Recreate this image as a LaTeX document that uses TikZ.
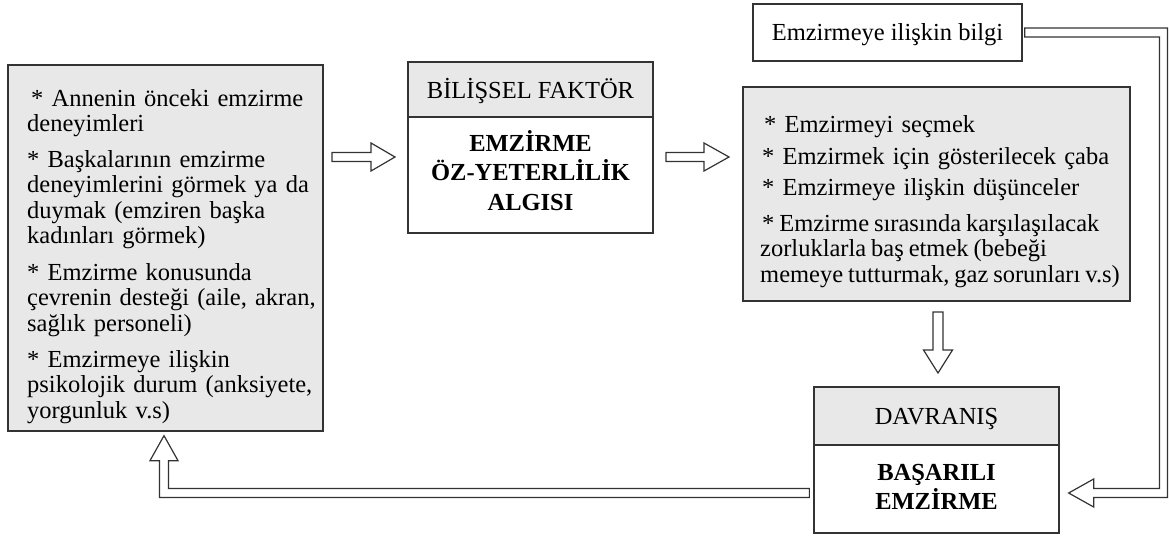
\documentclass[tikz,border=0pt]{standalone}
\usepackage{fontspec}
\setmainfont{Liberation Serif}
\usetikzlibrary{calc}
\definecolor{boxgray}{RGB}{232,232,232}
\definecolor{linec}{RGB}{51,51,51}
\newcommand\bodyfont{\fontsize{24.5pt}{25.5pt}\selectfont\lineskiplimit=-50pt\lineskip=0pt}
\newcommand\tstrut{\rule{0pt}{22pt}}
\begin{document}
\begin{tikzpicture}[x=1pt,y=-1pt,
  box/.style={draw=linec, line width=1.3pt, inner sep=0pt, rectangle},
  graybox/.style={box, fill=boxgray},
  whitebox/.style={box, fill=white},
  txt/.style={inner sep=0pt, font=\bodyfont, align=left, text width=420pt, anchor=north west},
  ctxt/.style={inner sep=0pt, font=\bodyfont, anchor=base},
  btxt/.style={inner sep=0pt, font=\bodyfont\bfseries, anchor=base},
  hollow/.style={draw=linec, line width=1.2pt, fill=white, line join=miter}]
\useasboundingbox (0,0) rectangle (1169,536);

% boxes
\node[graybox, minimum width=315pt, minimum height=366pt] (L) at (165.5,248) {};
\node[whitebox, minimum width=245pt, minimum height=171pt] (M) at (530.5,147.5) {};
\node[graybox, minimum width=245pt, minimum height=55pt, anchor=north] (Mh) at (M.north) {};
\node[graybox, minimum width=387pt, minimum height=214pt] (R) at (936.5,194) {};
\node[whitebox, minimum width=269pt, minimum height=57pt] (T) at (887.5,32.5) {};
\node[whitebox, minimum width=245pt, minimum height=146pt] (D) at (936.5,460) {};
\node[graybox, minimum width=245pt, minimum height=58pt, anchor=north] (Dh) at (D.north) {};

% left box text
\node[txt] (l1) at (27,84) {\tstrut\hspace*{4pt}* Annenin önceki emzirme\\deneyimleri};
\node[txt] (l2) at (27,145) {\tstrut* Başkalarının emzirme\\deneyimlerini görmek ya da\\duymak (emziren başka\\kadınları görmek)};
\node[txt] (l3) at (27,258) {\tstrut* Emzirme konusunda\\çevrenin desteği (aile, akran,\\sağlık personeli)};
\node[txt] (l4) at (27,345) {\tstrut* Emzirmeye ilişkin\\psikolojik durum (anksiyete,\\yorgunluk v.s)};

% middle box text
\node[ctxt] (mh) at (530.5,98) {BİLİŞSEL FAKTÖR};
\node[btxt] (m1) at (530.5,151.5) {EMZİRME};
\node[btxt] (m2) at (530.5,180.5) {ÖZ-YETERLİLİK};
\node[btxt] (m3) at (530.5,210.5) {ALGISI};

% right box text
\node[txt] (r1) at (760,110) {\tstrut\hspace*{4pt}* Emzirmeyi seçmek};
\node[txt] (r2) at (760,142) {\tstrut\hspace*{2pt}* Emzirmek için gösterilecek çaba};
\node[txt] (r3) at (760,173) {\tstrut\hspace*{2pt}* Emzirmeye ilişkin düşünceler};
\node[txt] (r4) at (760,209) {\spaceskip=0.2em\tstrut\hspace*{2pt}* Emzirme sırasında karşılaşılacak\\zorluklarla baş etmek (bebeği\\memeye tutturmak, gaz sorunları v.s)};

% top box text
\node[ctxt] (t1) at (887.5,40) {Emzirmeye ilişkin bilgi};

% bottom box text
\node[ctxt] (dh) at (936.5,424) {DAVRANIŞ};
\node[btxt] (d1) at (936.5,480) {BAŞARILI};
\node[btxt] (d2) at (936.5,509) {EMZİRME};

% straight hollow arrows
\coordinate (a1s) at (332,157); \coordinate (a1e) at (395,157);
\coordinate (a2s) at (666,157); \coordinate (a2e) at (729,157);
\coordinate (a3s) at (938,312); \coordinate (a3e) at (938,373);
\draw[hollow] ($(a1s)+(0,-4.5)$) -- ($(a1e)+(-24,-4.5)$) -- ($(a1e)+(-24,-14)$) -- (a1e)
  -- ($(a1e)+(-24,14)$) -- ($(a1e)+(-24,4.5)$) -- ($(a1s)+(0,4.5)$) -- cycle;
\draw[hollow] ($(a2s)+(0,-4.5)$) -- ($(a2e)+(-25,-4.5)$) -- ($(a2e)+(-25,-14)$) -- (a2e)
  -- ($(a2e)+(-25,14)$) -- ($(a2e)+(-25,4.5)$) -- ($(a2s)+(0,4.5)$) -- cycle;
\draw[hollow] ($(a3s)+(-5,0)$) -- ($(a3e)+(-5,-23)$) -- ($(a3e)+(-14.5,-23)$) -- (a3e)
  -- ($(a3e)+(14.5,-23)$) -- ($(a3e)+(5,-23)$) -- ($(a3s)+(5,0)$) -- cycle;

% bent hollow arrow: information -> behaviour
\coordinate (b1s) at ($(T.east)+(2,0)$);
\coordinate (b1c) at (1163.5,32.5);
\coordinate (b1d) at (1163.5,493);
\coordinate (b1e) at ($(D.east |- b1d)+(9,0)$);
\draw[hollow] ($(b1s)+(0,-4.5)$) -- ($(b1c)+(4,-4.5)$) -- ($(b1d)+(4,4.5)$) -- ($(b1e)+(25,4.5)$)
  -- ($(b1e)+(25,14)$) -- (b1e) -- ($(b1e)+(25,-14)$) -- ($(b1e)+(25,-4.5)$)
  -- ($(b1d)+(-4,-4.5)$) -- ($(b1c)+(-4,4.5)$) -- ($(b1s)+(0,4.5)$) -- cycle;

% bent hollow arrow: behaviour -> sources
\coordinate (b2s) at ($(D.west |- b1d)+(-4,0)$);
\coordinate (b2c) at (164,493);
\coordinate (b2e) at ($(L.south -| b2c)+(0,4)$);
\draw[hollow] ($(b2s)+(0,-4.5)$) -- ($(b2c)+(4.5,-4.5)$) -- ($(b2e)+(4.5,25)$) -- ($(b2e)+(14,25)$)
  -- (b2e) -- ($(b2e)+(-14,25)$) -- ($(b2e)+(-4.5,25)$) -- ($(b2c)+(-4.5,4.5)$)
  -- ($(b2s)+(0,4.5)$) -- cycle;
\end{tikzpicture}
\end{document}
